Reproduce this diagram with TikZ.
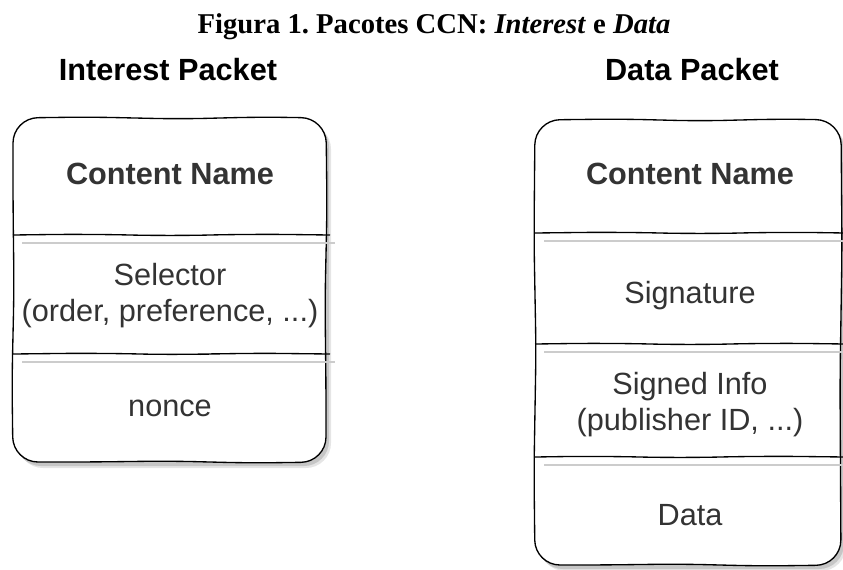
\documentclass[tikz,border=0pt]{standalone}
\usepackage{fontspec}
\setmainfont{Liberation Serif}
\setsansfont{Liberation Sans}
\definecolor{fieldgray}{HTML}{333333}
\frenchspacing

\begin{document}
\begin{tikzpicture}[x=0.75pt,y=-0.75pt,
  packet/.style={line width=1pt,fill=white,rounded corners=18.75pt},
  shade/.style={rounded corners=18.75pt},
  divider/.style={line width=1pt,rounded corners=30pt},
  ghost/.style={gray!40,line width=1.2pt},
  field/.style={anchor=base,align=center,inner sep=0pt,text=fieldgray,font=\sffamily\fontsize{23}{27}\selectfont},
  fieldname/.style={field,font=\sffamily\bfseries\fontsize{23}{27}\selectfont},
  heading/.style={anchor=base,inner sep=0pt,font=\sffamily\bfseries\fontsize{23}{27}\selectfont}]
  \useasboundingbox (0,0) rectangle (843,569);
  \clip (0,0) rectangle (843,569);
  \node[anchor=base,inner sep=0pt,font=\bfseries\fontsize{21.5}{25}\selectfont] (caption) at (434,33) {Figura 1. Pacotes CCN: \textit{Interest} e \textit{Data}};
  \node[heading] (interesthead) at (168,80) {Interest Packet};
  \node[heading] (datahead) at (692,80) {Data Packet};
  % interest packet
  \fill[shade,gray!20] (18,124) rectangle (331,468);
  \fill[shade,gray!45] (16,122) rectangle (329,466);
  \filldraw[packet] (13,118) -- (90,117) -- (180,119) -- (260,117) -- (326,118) -- (327,210) -- (325,300) -- (326,390) -- (326,462)
    -- (250,463) -- (170,461) -- (90,462) -- (13,462) -- (12,380) -- (14,290) -- (13,200) -- cycle;
  \draw[divider] (13,235) -- (90,234) -- (170,236) -- (250,234) -- (330,235);
  \draw[ghost] (22,243) -- (335,243);
  \draw[divider] (13,354) -- (100,353) -- (180,355) -- (240,353) -- (330,354);
  \draw[ghost] (22,362) -- (335,362);
  \node[fieldname] (intname) at (170,184) {Content Name};
  \node[field] (selector) at (170,321) {Selector\\(order, preference, ...)};
  \node[field] (nonce) at (170,416) {nonce};
  % data packet
  \fill[shade,gray!20] (540,126) rectangle (846,571);
  \fill[shade,gray!45] (538,124) rectangle (844,569);
  \filldraw[packet] (535,120) -- (620,119) -- (700,121) -- (780,119) -- (841,120) -- (842,250) -- (840,380) -- (841,565)
    -- (760,566) -- (680,564) -- (600,565) -- (535,565) -- (534,470) -- (536,350) -- (534,240) -- cycle;
  \draw[divider] (535,233) -- (620,232) -- (700,234) -- (780,232) -- (845,233);
  \draw[ghost] (544,241) -- (845,241);
  \draw[divider] (535,344) -- (610,343) -- (690,345) -- (770,343) -- (845,344);
  \draw[ghost] (544,352) -- (845,352);
  \draw[divider] (535,457) -- (600,456) -- (680,458) -- (760,456) -- (845,457);
  \draw[ghost] (544,465) -- (845,465);
  \node[fieldname] (dataname) at (690,184) {Content Name};
  \node[field] (signature) at (690,303) {Signature};
  \node[field] (signedinfo) at (690,430) {Signed Info\\(publisher ID, ...)};
  \node[field] (payload) at (690,525) {Data};
\end{tikzpicture}
\end{document}
